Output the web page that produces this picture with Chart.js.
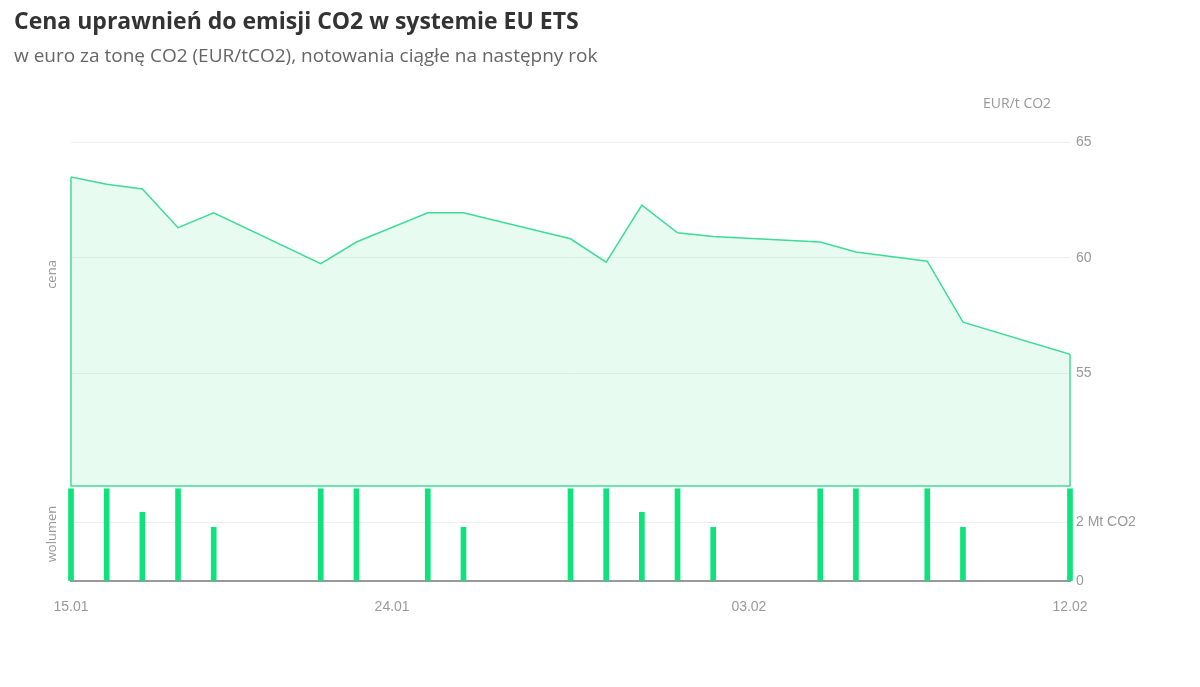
<!DOCTYPE html>
<html><head><meta charset="utf-8">
<script src="https://cdn.jsdelivr.net/npm/chart.js@4"></script>
<style>
body{margin:0;background:#fff;font-family:"Open Sans",sans-serif;}
#t{position:absolute;left:14px;top:4px;font-size:23px;font-weight:bold;color:#333;font-family:"Open Sans",sans-serif;}
#s{position:absolute;left:14px;top:42px;font-size:19px;color:#666;}
#u{position:absolute;left:983px;top:93px;font-size:14px;color:#999;}
#w{position:absolute;left:0;top:0;width:1200px;height:687px;}
</style></head><body>
<div id="w"><canvas id="c"></canvas></div>
<div id="t">Cena uprawnień do emisji CO2 w systemie EU ETS</div>
<div id="s">w euro za tonę CO2 (EUR/tCO2), notowania ciągłe na następny rok</div>
<div id="u">EUR/t CO2</div>
<script>
const dates=["15.01","16.01","17.01","18.01","19.01","22.01","23.01","25.01","26.01","29.01","30.01","31.01","01.02","02.02","05.02","06.02","08.02","09.02","12.02"];
const prices=[63.49,63.18,62.97,61.30,61.94,59.75,60.68,61.94,61.94,60.82,59.81,62.27,61.08,60.92,60.68,60.25,59.85,57.22,55.83];
const volumes=[3.14,3.14,2.34,3.14,1.83,3.14,3.14,3.14,1.83,3.14,3.14,2.34,3.14,1.83,3.14,3.14,3.14,1.83,3.14];
const tickDates=["15.01","24.01","03.02","12.02"];
const priceTicks=[55,60,65];
const volTicks=[0,2];
function dayIdx(s){const [d,m]=s.split('.').map(Number);return (m===1?d:31+d)-15;}
const px=dates.map((d,i)=>({x:dayIdx(d),y:prices[i]}));
const vx=dates.map((d,i)=>({x:dayIdx(d),y:volumes[i]}));
const tickPos=tickDates.map(dayIdx);
const side={id:'side',
 beforeDatasetsDraw(ch){const c=ch.ctx,a=ch.scales.yP,x=ch.scales.x;c.save();c.strokeStyle='#3ddc97';c.lineWidth=1.5;
  c.beginPath();c.moveTo(x.getPixelForValue(0),a.getPixelForValue(prices[0]));c.lineTo(x.left,a.bottom-1);c.lineTo(x.right,a.bottom-1);c.lineTo(x.right,a.getPixelForValue(prices[prices.length-1]));c.stroke();c.restore();},
 afterDraw(ch){const c=ch.ctx;const a=ch.scales.yP,b=ch.scales.yV;c.save();c.fillStyle='#999';c.font='13px "Open Sans"';c.textAlign='center';
 [[a,'cena',(a.top+a.bottom)/2-40],[b,'wolumen',(b.top+b.bottom)/2]].forEach(([s,t,y])=>{c.save();c.translate(56,y);c.rotate(-Math.PI/2);c.fillText(t,0,0);c.restore();});c.restore();}};
new Chart(document.getElementById('c'),{
 data:{datasets:[
  {type:'line',data:px,yAxisID:'yP',borderColor:'#3ddc97',borderWidth:1.5,backgroundColor:'rgba(120,235,170,0.18)',fill:'start',pointRadius:0,tension:0},
  {type:'bar',data:vx,yAxisID:'yV',backgroundColor:'#0de27c',barThickness:5,clip:false}
 ]},
 options:{responsive:true,maintainAspectRatio:false,animation:false,
  layout:{padding:{top:142,left:71,right:0,bottom:0}},
  plugins:{legend:{display:false},tooltip:{enabled:false}},
  scales:{
   x:{type:'linear',min:0,max:28,offset:false,
    afterBuildTicks(s){s.ticks=tickPos.map(v=>({value:v}));},
    afterFit(s){s.height=106;},
    ticks:{color:'#999',font:{size:14},padding:10,callback:(v)=>tickDates[tickPos.indexOf(v)]},
    grid:{display:false},border:{color:'#999',width:2}},
   yP:{type:'linear',position:'right',stack:'s',stackWeight:345,min:50.1,max:65,
    afterBuildTicks(s){s.ticks=priceTicks.map(v=>({value:v}));},
    afterFit(s){s.width=130;},
    ticks:{color:'#999',font:{size:14},padding:6},grid:{color:'#eee',drawTicks:false},border:{display:false}},
   yV:{type:'linear',position:'right',stack:'s',stackWeight:94,min:0,max:3.2,offset:false,
    afterBuildTicks(s){s.ticks=volTicks.map(v=>({value:v}));},
    afterFit(s){s.width=130;},
    ticks:{color:'#999',font:{size:14},padding:6,callback:v=>v===0?'0':v+' Mt CO2'},grid:{color:'#eee',drawTicks:false},border:{display:false}}
  }},
 plugins:[side]
});
</script></body></html>
